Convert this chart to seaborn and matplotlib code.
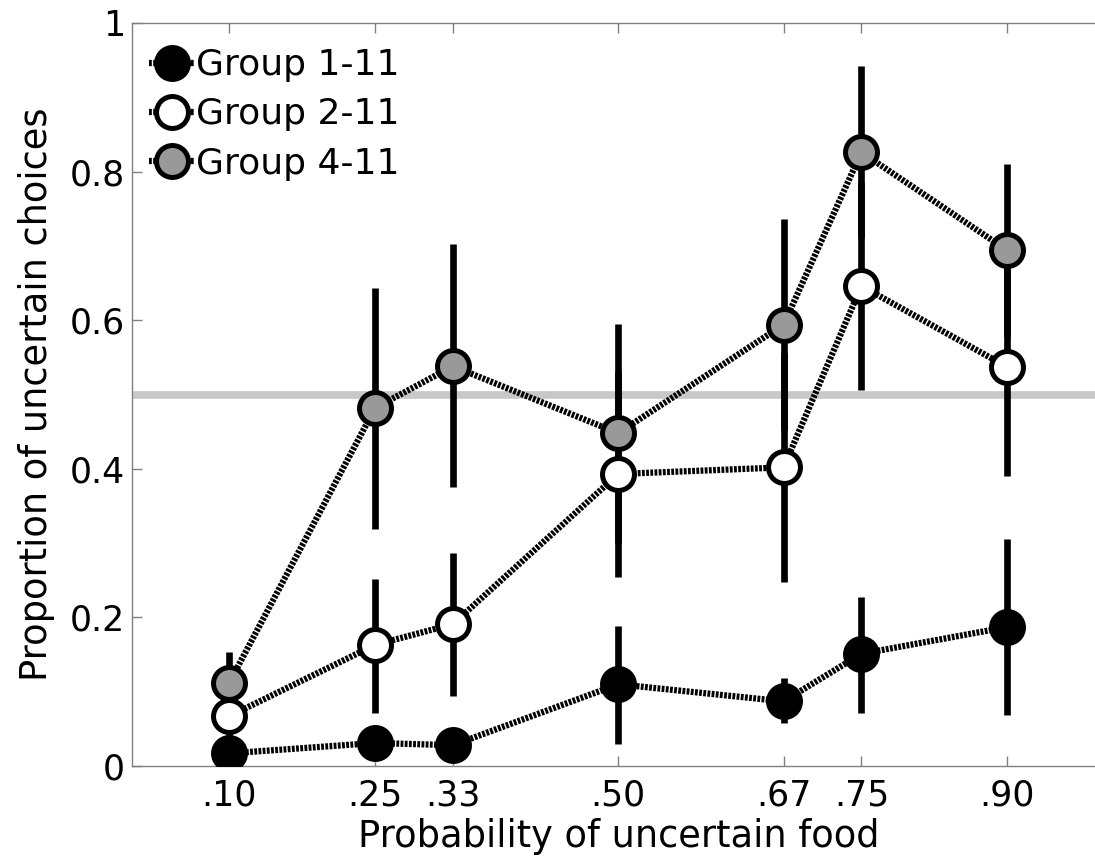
import numpy as np
import pandas as pd
import matplotlib
matplotlib.use("Agg")
import matplotlib.pyplot as plt
from matplotlib.lines import Line2D
import seaborn as sns

# ------------------------------
# data
# ------------------------------
probs = [0.10, 0.25, 0.33, 0.50, 0.67, 0.75, 0.90]
tick_labels = [".10", ".25", ".33", ".50", ".67", ".75", ".90"]
groups = ["Group 1-11", "Group 2-11", "Group 4-11"]

g1 = [0.017, 0.031, 0.028, 0.110, 0.087, 0.151, 0.187]
g1_lo = [0.005, 0.018, 0.015, 0.030, 0.058, 0.071, 0.069]
g1_hi = [0.030, 0.045, 0.042, 0.188, 0.118, 0.227, 0.305]

g2 = [0.067, 0.163, 0.191, 0.393, 0.402, 0.646, 0.537]
g2_lo = [0.040, 0.071, 0.094, 0.254, 0.248, 0.506, 0.390]
g2_hi = [0.094, 0.252, 0.287, 0.532, 0.556, 0.786, 0.684]

g4 = [0.112, 0.482, 0.538, 0.448, 0.594, 0.826, 0.694]
g4_lo = [0.071, 0.319, 0.376, 0.300, 0.452, 0.710, 0.578]
g4_hi = [0.153, 0.643, 0.703, 0.595, 0.736, 0.942, 0.810]

fills = ["black", "white", "#999999"]
chance = 0.5

df = pd.DataFrame({
    "prob": probs * 3,
    "value": g1 + g2 + g4,
    "lo": g1_lo + g2_lo + g4_lo,
    "hi": g1_hi + g2_hi + g4_hi,
    "group": np.repeat(groups, len(probs)),
})

# ------------------------------
# plot
# ------------------------------
sns.set_style("ticks")
plt.rcParams['font.family'] = ['DejaVu Sans']
plt.rcParams['text.color'] = 'black'
plt.rcParams['axes.labelcolor'] = 'black'
plt.rcParams['xtick.labelcolor'] = 'black'
plt.rcParams['ytick.labelcolor'] = 'black'

fig = plt.figure(figsize=(10.95, 8.59), dpi=100)
ax = fig.add_axes([132 / 1095, 1 - 766 / 859, 972.5 / 1095, 743 / 859])

dots = (0, (0.45, 0.22))
lw_line = 4.5
ms = 23
mew = 3.6

ax.axhline(chance, color="#c8c8c8", lw=5.5, zorder=1)

for g in groups:
    d = df[df["group"] == g]
    ax.vlines(d["prob"], d["lo"], d["hi"], color="black", lw=4.8, zorder=2)

for g in groups:
    d = df[df["group"] == g]
    sns.lineplot(data=d, x="prob", y="value", color="black", lw=lw_line,
                 linestyle=dots, ax=ax, zorder=3, legend=False)

for g, fc in zip(groups, fills):
    d = df[df["group"] == g]
    sns.scatterplot(data=d, x="prob", y="value", s=ms ** 2, color=fc,
                    edgecolor="black", linewidth=mew, ax=ax, zorder=4,
                    legend=False)

ax.set_xlim(0, 1)
ax.set_ylim(0, 1)
ax.set_xticks(probs)
ax.set_xticklabels(tick_labels)
ax.set_yticks([0, 0.2, 0.4, 0.6, 0.8, 1])
ax.set_yticklabels(["0", "0.2", "0.4", "0.6", "0.8", "1"])
ax.tick_params(direction="in", length=7, width=1, color="#808080",
               top=True, right=True, labelsize=25)
ax.tick_params(axis="y", pad=5)
ax.tick_params(axis="x", pad=9)
for sp in ax.spines.values():
    sp.set_color("#808080")
    sp.set_linewidth(1)

ax.set_xlabel("Probability of uncertain food", fontsize=26.5, labelpad=4)
ax.set_ylabel("Proportion of uncertain choices", fontsize=26.5, labelpad=11)

handles = [Line2D([0], [0], color="black", lw=lw_line, linestyle=dots,
                  marker="o", markersize=ms, markerfacecolor=fc,
                  markeredgecolor="black", markeredgewidth=mew)
           for fc in fills]
ax.legend(handles, groups, loc="upper left", bbox_to_anchor=(-0.008, 1.0),
          frameon=False, fontsize=26, handlelength=1.25, handletextpad=0.05,
          labelspacing=0.42, borderaxespad=0.4, borderpad=0.3)

fig.savefig("out.png", dpi=100)
